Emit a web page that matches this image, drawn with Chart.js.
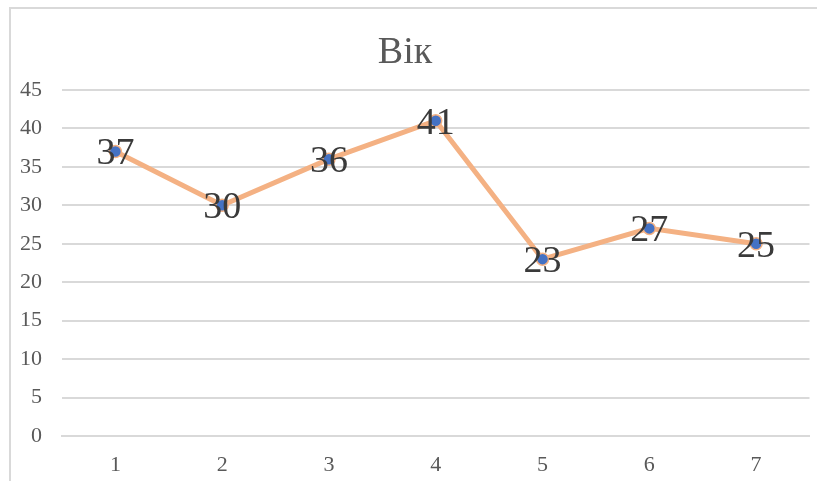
<!DOCTYPE html>
<html>
<head>
<meta charset="utf-8">
<script src="https://cdn.jsdelivr.net/npm/chart.js@4"></script>
<style>
html,body{margin:0;padding:0;background:#fff;}
#wrap{position:relative;width:817px;height:481px;}
#frame{position:absolute;left:9px;top:7px;width:830px;height:500px;border-left:2px solid #d9d9d9;border-top:2px solid #d9d9d9;}
canvas{position:absolute;left:0;top:0;}
</style>
</head>
<body>
<div id="wrap">
<div id="frame"></div>
<canvas id="c" width="817" height="481"></canvas>
</div>
<script>
const categories = ['1','2','3','4','5','6','7'];
const ages = [37, 30, 36, 41, 23, 27, 25];
const chartTitle = 'Вік';

const serif = '"Liberation Serif", "Times New Roman", serif';

const labelPlugin = {
  id: 'pointLabels',
  afterDatasetsDraw(chart) {
    const ctx = chart.ctx;
    const meta = chart.getDatasetMeta(0);
    ctx.save();
    ctx.font = '38px ' + serif;
    ctx.fillStyle = '#3a3a3a';
    ctx.textAlign = 'center';
    ctx.textBaseline = 'middle';
    meta.data.forEach((pt, i) => {
      ctx.fillText(String(ages[i]), pt.x, pt.y + 3);
    });
    ctx.restore();
  }
};

new Chart(document.getElementById('c'), {
  type: 'line',
  data: {
    labels: categories,
    datasets: [{
      data: ages,
      borderColor: '#F4B183',
      borderWidth: 5,
      pointBackgroundColor: '#4472C4',
      pointBorderColor: '#F4B183',
      pointBorderWidth: 1.5,
      pointRadius: 6,
      tension: 0
    }]
  },
  options: {
    responsive: false,
    animation: false,
    layout: { padding: { left: 0, right: 7, top: 0, bottom: 0 } },
    plugins: {
      legend: { display: false },
      tooltip: { enabled: false },
      title: {
        display: true,
        text: chartTitle,
        color: '#595959',
        font: { family: serif, size: 38, weight: 'normal' },
        padding: { top: 30, bottom: 14.4 }
      }
    },
    scales: {
      x: {
        offset: true,
        grid: { display: false, drawTicks: false },
        border: { display: true, color: '#d9d9d9', width: 2 },
        ticks: { color: '#595959', font: { family: serif, size: 22 }, padding: 16 },
        afterFit(s) { s.height = 45; }
      },
      y: {
        min: 0, max: 45,
        ticks: { stepSize: 5, color: '#595959', font: { family: serif, size: 22 }, padding: 20 },
        grid: { color: '#d9d9d9', lineWidth: 2, drawTicks: false },
        border: { display: false },
        afterFit(s) { s.width = 62; }
      }
    }
  },
  plugins: [labelPlugin]
});
</script>
</body>
</html>
